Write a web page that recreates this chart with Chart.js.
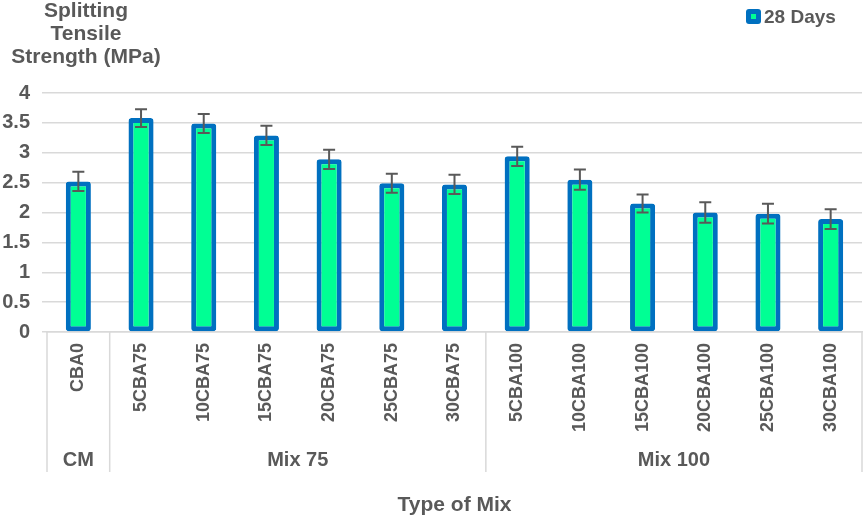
<!DOCTYPE html>
<html>
<head>
<meta charset="utf-8">
<script src="https://cdn.jsdelivr.net/npm/chart.js@4/dist/chart.umd.min.js"></script>
<style>
  body { margin: 0; background: #fff; }
  canvas { display: block; }
</style>
</head>
<body>
<canvas id="grafico" width="865" height="518"></canvas>
<script>
// Dados
const mixLabels = ["CBA0", "5CBA75", "10CBA75", "15CBA75", "20CBA75", "25CBA75", "30CBA75",
                   "5CBA100", "10CBA100", "15CBA100", "20CBA100", "25CBA100", "30CBA100"];
const groupNames = ["CM", "Mix 75", "Mix 100"];
const groupSizes = [1, 6, 6];
const strength28 = [2.52, 3.58, 3.49, 3.29, 2.89, 2.49, 2.47, 2.94, 2.55, 2.15, 2.00, 1.98, 1.89];
const errors28 = [0.16, 0.15, 0.16, 0.16, 0.16, 0.16, 0.16, 0.16, 0.17, 0.15, 0.17, 0.165, 0.165];
const yTitleLines = ["Splitting", "Tensile", "Strength (MPa)"];
const xTitle = "Type of Mix";
const seriesName = "28 Days";

const TXT = "#595959";
const LINHA = "#d9d9d9";
const VERDE = "#00ff94";
const AZUL = "#0070c0";
const FONTE = "'Liberation Sans', Arial, sans-serif";

// Barras de erro
const errorBars = {
    id: "errorBars",
    afterDatasetsDraw(chart) {
        const ctx = chart.ctx;
        const meta = chart.getDatasetMeta(0);
        const y = chart.scales.y;
        ctx.save();
        ctx.strokeStyle = TXT;
        ctx.lineWidth = 2;
        meta.data.forEach((bar, i) => {
            const yTop = y.getPixelForValue(strength28[i] + errors28[i]);
            const yBot = y.getPixelForValue(strength28[i] - errors28[i]);
            ctx.beginPath();
            ctx.moveTo(bar.x, yTop); ctx.lineTo(bar.x, yBot);
            ctx.moveTo(bar.x - 6, yTop); ctx.lineTo(bar.x + 6, yTop);
            ctx.moveTo(bar.x - 6, yBot); ctx.lineTo(bar.x + 6, yBot);
            ctx.stroke();
        });
        ctx.restore();
    }
};

// Eixo de categorias em dois níveis, títulos e legenda
const extras = {
    id: "extras",
    afterDraw(chart) {
        const ctx = chart.ctx;
        const x = chart.scales.x;
        const area = chart.chartArea;
        const passo = x.width / mixLabels.length;
        const fundo = area.bottom + 140;

        ctx.save();
        ctx.fillStyle = TXT;

        // rótulos rotacionados
        ctx.font = "bold 18px " + FONTE;
        ctx.textAlign = "right";
        ctx.textBaseline = "middle";
        mixLabels.forEach((lab, i) => {
            ctx.save();
            ctx.translate(x.getPixelForValue(i), area.bottom + 11);
            ctx.rotate(-Math.PI / 2);
            ctx.fillText(lab, 0, 0);
            ctx.restore();
        });

        // separadores e nomes dos grupos
        ctx.strokeStyle = LINHA;
        ctx.lineWidth = 1.5;
        ctx.font = "bold 20px " + FONTE;
        ctx.textAlign = "center";
        let inicio = 0;
        const bordas = [x.left];
        groupSizes.forEach((n, g) => {
            const xa = x.left + inicio * passo;
            const xb = x.left + (inicio + n) * passo;
            bordas.push(xb);
            ctx.fillText(groupNames[g], (xa + xb) / 2, area.bottom + 128);
            inicio += n;
        });
        bordas.forEach(bx => {
            ctx.beginPath();
            ctx.moveTo(bx, area.bottom);
            ctx.lineTo(bx, fundo);
            ctx.stroke();
        });

        // título do eixo x
        ctx.font = "bold 21px " + FONTE;
        ctx.fillText(xTitle, (area.left + area.right) / 2, 505);

        // título do eixo y
        ctx.textBaseline = "alphabetic";
        yTitleLines.forEach((t, i) => ctx.fillText(t, 86, 17 + i * 23));

        // legenda
        ctx.fillStyle = AZUL;
        ctx.beginPath();
        ctx.roundRect(746, 9, 15, 15, 3);
        ctx.fill();
        ctx.fillStyle = VERDE;
        ctx.fillRect(751, 14, 5, 5);
        ctx.fillStyle = TXT;
        ctx.font = "bold 19px " + FONTE;
        ctx.textAlign = "left";
        ctx.fillText(seriesName, 764, 23);
        ctx.restore();
    }
};

new Chart(document.getElementById("grafico"), {
    type: "bar",
    data: {
        labels: mixLabels,
        datasets: [{
            label: seriesName,
            data: strength28,
            backgroundColor: VERDE,
            borderColor: AZUL,
            borderWidth: 5,
            borderRadius: 3,
            borderSkipped: false,
            barPercentage: 0.4,
            categoryPercentage: 1
        }]
    },
    options: {
        responsive: false,
        animation: false,
        layout: { padding: { left: 0, right: 3, top: 93, bottom: 0 } },
        plugins: {
            legend: { display: false },
            tooltip: { enabled: false }
        },
        scales: {
            x: {
                grid: { display: false },
                border: { display: true, color: LINHA, width: 1.5 },
                ticks: { display: false },
                afterFit: s => { s.height = 186; }
            },
            y: {
                min: 0,
                max: 4,
                ticks: {
                    stepSize: 0.5,
                    color: TXT,
                    padding: 12,
                    font: { family: FONTE, size: 20, weight: "bold" },
                    callback: v => String(v)
                },
                grid: { color: LINHA, lineWidth: 1.5, tickLength: 5 },
                border: { display: false },
                afterFit: s => { s.width = 47; }
            }
        }
    },
    plugins: [errorBars, extras]
});
</script>
</body>
</html>
